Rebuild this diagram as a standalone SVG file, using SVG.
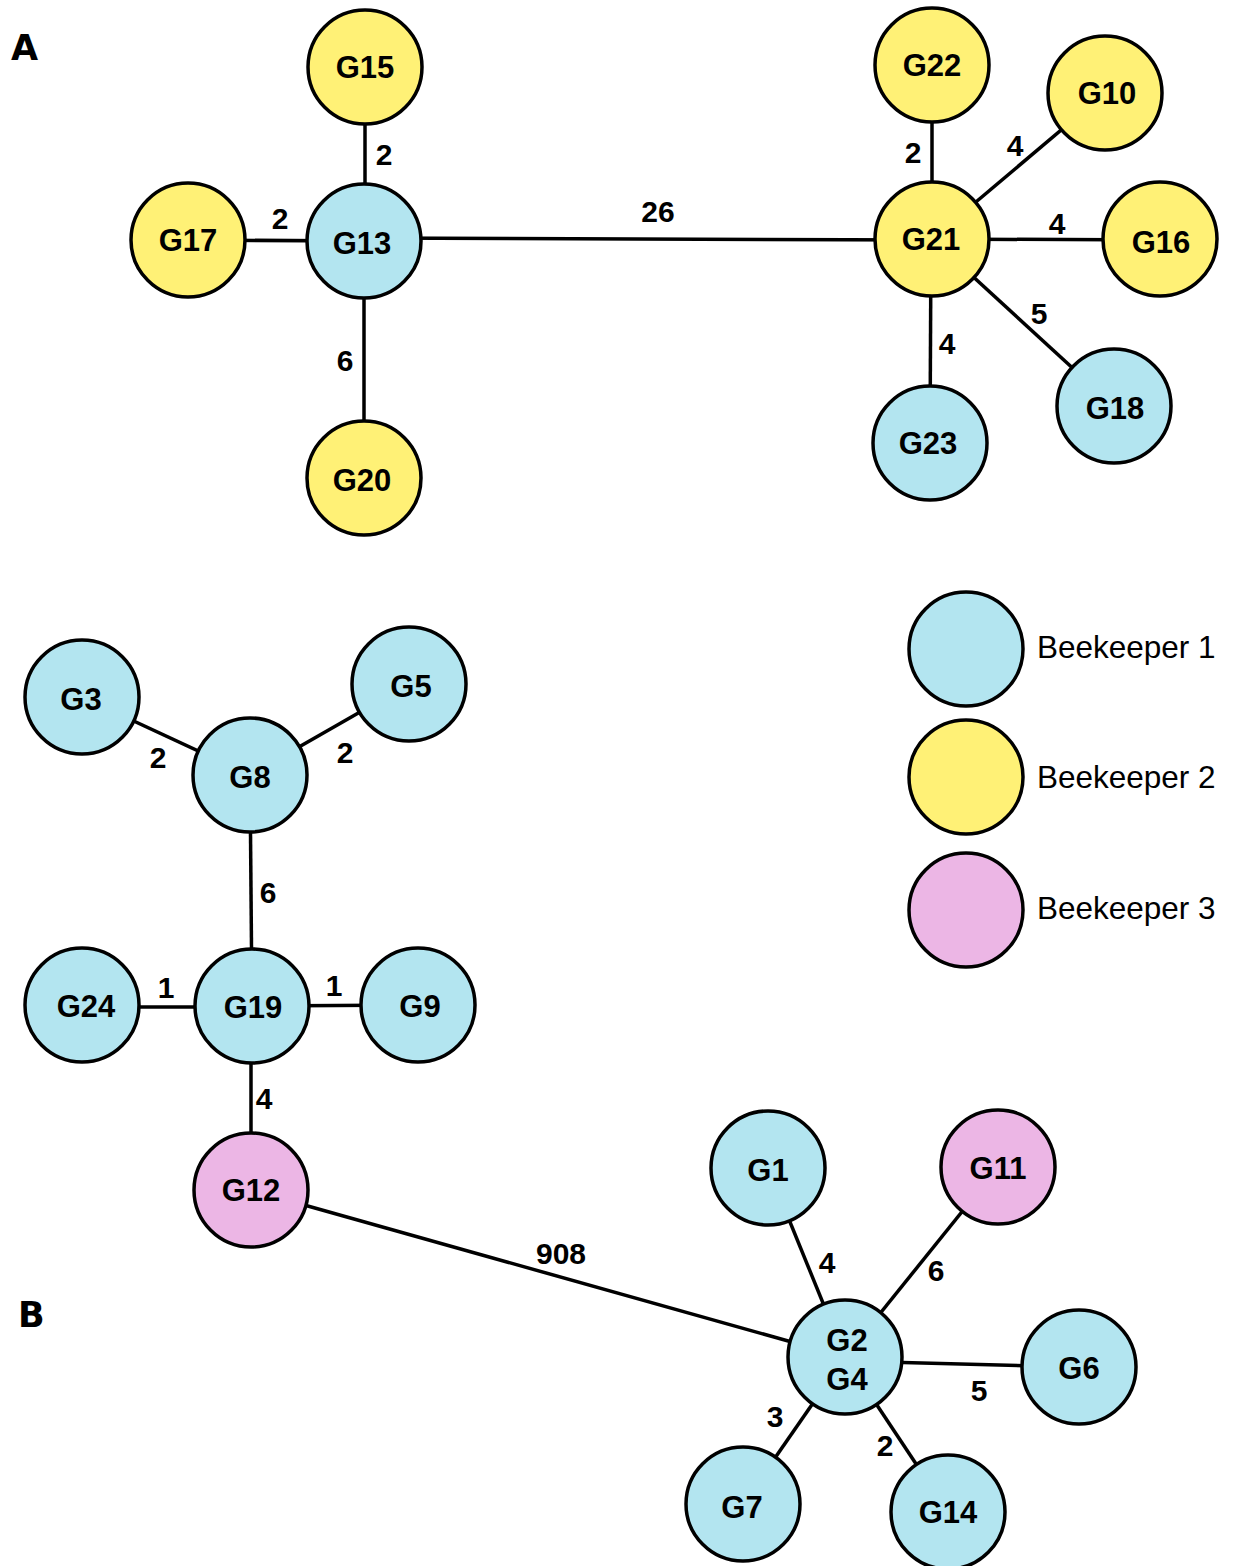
<svg xmlns="http://www.w3.org/2000/svg" width="1239" height="1566" viewBox="0 0 1239 1566">
<style>
.n{stroke:#000;stroke-width:3.5}
.b1{fill:#b3e5f0}.b2{fill:#fff176}.b3{fill:#ecb6e5}
.t{font-family:"Liberation Sans",Arial,sans-serif;font-weight:bold;font-size:31px;text-anchor:middle;fill:#000}
.e{stroke:#000;stroke-width:3.5;fill:none}
.el{font-family:"Liberation Sans",Arial,sans-serif;font-weight:bold;font-size:30px;text-anchor:middle;fill:#000}
.lg{font-family:"Liberation Sans",Arial,sans-serif;font-size:31.5px;fill:#000}
.pl{font-family:"DejaVu Sans",sans-serif;font-weight:bold;font-size:35px;fill:#000}
</style>
<rect width="1239" height="1566" fill="#fff"/>
<text class="pl" x="11" y="60">A</text>
<text class="pl" x="18" y="1327">B</text>
<g id="connectors">
<line class="e" x1="365" y1="67" x2="365" y2="241"/>
<line class="e" x1="188" y1="240" x2="364" y2="241"/>
<line class="e" x1="364" y1="241" x2="364" y2="478"/>
<line class="e" x1="364" y1="238" x2="932" y2="240"/>
<line class="e" x1="932" y1="65" x2="932" y2="239"/>
<line class="e" x1="932" y1="239" x2="1105" y2="93"/>
<line class="e" x1="932" y1="239" x2="1160" y2="240"/>
<line class="e" x1="932" y1="239" x2="1114" y2="406"/>
<line class="e" x1="931" y1="239" x2="930" y2="443"/>
<line class="e" x1="82" y1="697" x2="250" y2="775"/>
<line class="e" x1="409" y1="684" x2="250" y2="775"/>
<line class="e" x1="250" y1="775" x2="252" y2="1006"/>
<line class="e" x1="82" y1="1007" x2="252" y2="1007"/>
<line class="e" x1="252" y1="1006" x2="418" y2="1005"/>
<line class="e" x1="251" y1="1006" x2="251" y2="1190"/>
<line class="e" x1="251" y1="1190" x2="845" y2="1357"/>
<line class="e" x1="768" y1="1168" x2="845" y2="1357"/>
<line class="e" x1="998" y1="1167" x2="845" y2="1357"/>
<line class="e" x1="845" y1="1361" x2="1079" y2="1367"/>
<line class="e" x1="845" y1="1357" x2="743" y2="1504"/>
<line class="e" x1="845" y1="1357" x2="948" y2="1512"/>
<text class="el" x="384" y="165">2</text>
<text class="el" x="280" y="229">2</text>
<text class="el" x="345" y="371">6</text>
<text class="el" x="658" y="222">26</text>
<text class="el" x="913" y="163">2</text>
<text class="el" x="1015" y="156">4</text>
<text class="el" x="1057" y="234">4</text>
<text class="el" x="1039" y="324">5</text>
<text class="el" x="947" y="354">4</text>
<text class="el" x="158" y="768">2</text>
<text class="el" x="345" y="763">2</text>
<text class="el" x="268" y="903">6</text>
<text class="el" x="166" y="998">1</text>
<text class="el" x="334" y="996">1</text>
<text class="el" x="264" y="1109">4</text>
<text class="el" x="561" y="1264">908</text>
<text class="el" x="827" y="1273">4</text>
<text class="el" x="936" y="1281">6</text>
<text class="el" x="979" y="1401">5</text>
<text class="el" x="775" y="1427">3</text>
<text class="el" x="885" y="1456">2</text>
</g>
<g id="G15"><circle class="n b2" cx="365" cy="67" r="57"/><text class="t" x="365" y="78">G15</text></g>
<g id="G17"><circle class="n b2" cx="188" cy="240" r="57"/><text class="t" x="188" y="251">G17</text></g>
<g id="G13"><circle class="n b1" cx="364" cy="241" r="57"/><text class="t" x="362" y="254">G13</text></g>
<g id="G20"><circle class="n b2" cx="364" cy="478" r="57"/><text class="t" x="362" y="491">G20</text></g>
<g id="G22"><circle class="n b2" cx="932" cy="65" r="57"/><text class="t" x="932" y="76">G22</text></g>
<g id="G10"><circle class="n b2" cx="1105" cy="93" r="57"/><text class="t" x="1107" y="104">G10</text></g>
<g id="G21"><circle class="n b2" cx="932" cy="239" r="57"/><text class="t" x="931" y="250">G21</text></g>
<g id="G16"><circle class="n b2" cx="1160" cy="239" r="57"/><text class="t" x="1161" y="253">G16</text></g>
<g id="G18"><circle class="n b1" cx="1114" cy="406" r="57"/><text class="t" x="1115" y="419">G18</text></g>
<g id="G23"><circle class="n b1" cx="930" cy="443" r="57"/><text class="t" x="928" y="454">G23</text></g>
<g id="G3"><circle class="n b1" cx="82" cy="697" r="57"/><text class="t" x="81" y="710">G3</text></g>
<g id="G5"><circle class="n b1" cx="409" cy="684" r="57"/><text class="t" x="411" y="697">G5</text></g>
<g id="G8"><circle class="n b1" cx="250" cy="775" r="57"/><text class="t" x="250" y="788">G8</text></g>
<g id="G24"><circle class="n b1" cx="82" cy="1005" r="57"/><text class="t" x="86" y="1017">G24</text></g>
<g id="G19"><circle class="n b1" cx="252" cy="1006" r="57"/><text class="t" x="253" y="1018">G19</text></g>
<g id="G9"><circle class="n b1" cx="418" cy="1005" r="57"/><text class="t" x="420" y="1017">G9</text></g>
<g id="G12"><circle class="n b3" cx="251" cy="1190" r="57"/><text class="t" x="251" y="1201">G12</text></g>
<g id="G1"><circle class="n b1" cx="768" cy="1168" r="57"/><text class="t" x="768" y="1181">G1</text></g>
<g id="G11"><circle class="n b3" cx="998" cy="1167" r="57"/><text class="t" x="998" y="1179">G11</text></g>
<g id="G2G4"><circle class="n b1" cx="845" cy="1357" r="57"/><text class="t" x="847" y="1351">G2</text><text class="t" x="847" y="1390">G4</text></g>
<g id="G6"><circle class="n b1" cx="1079" cy="1367" r="57"/><text class="t" x="1079" y="1379">G6</text></g>
<g id="G7"><circle class="n b1" cx="743" cy="1504" r="57"/><text class="t" x="742" y="1518">G7</text></g>
<g id="G14"><circle class="n b1" cx="948" cy="1512" r="57"/><text class="t" x="948" y="1523">G14</text></g>
<g id="legend">
<circle class="n b1" cx="966" cy="649" r="57"/><text class="lg" x="1037" y="658">Beekeeper 1</text>
<circle class="n b2" cx="966" cy="777" r="57"/><text class="lg" x="1037" y="788">Beekeeper 2</text>
<circle class="n b3" cx="966" cy="910" r="57"/><text class="lg" x="1037" y="919">Beekeeper 3</text>
</g>
</svg>
